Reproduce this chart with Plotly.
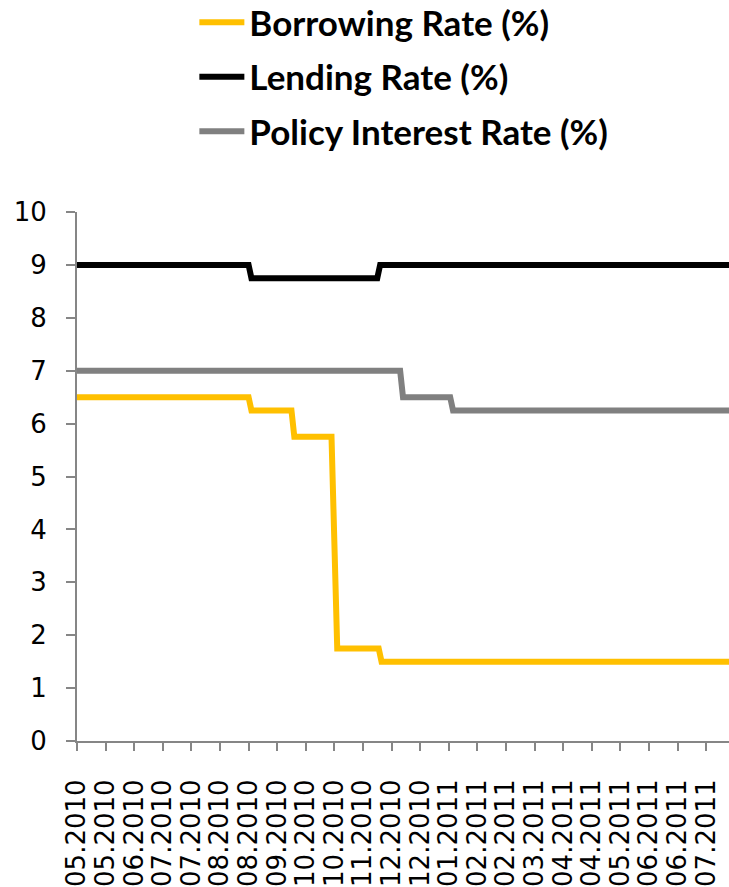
import plotly.graph_objects as go

# Interest rate series (change points; values in %)
borrow_dates = ["2010-05-03", "2010-08-31", "2010-09-02", "2010-09-30", "2010-10-02",
                "2010-10-28", "2010-11-01", "2010-11-30", "2010-12-02", "2011-08-02"]
borrow_vals = [6.5, 6.5, 6.25, 6.25, 5.75, 5.75, 1.75, 1.75, 1.5, 1.5]

lend_dates = ["2010-05-03", "2010-08-31", "2010-09-02", "2010-11-29", "2010-12-01", "2011-08-02"]
lend_vals = [9, 9, 8.75, 8.75, 9, 9]

policy_dates = ["2010-05-03", "2010-12-15", "2010-12-17", "2011-01-19", "2011-01-21", "2011-08-02"]
policy_vals = [7, 7, 6.5, 6.5, 6.25, 6.25]

# Category ticks on the date axis
tick_dates = ["2010-05-03", "2010-05-23", "2010-06-12", "2010-07-02", "2010-07-22",
              "2010-08-11", "2010-08-31", "2010-09-20", "2010-10-10", "2010-10-30",
              "2010-11-19", "2010-12-09", "2010-12-29", "2011-01-18", "2011-02-07",
              "2011-02-27", "2011-03-19", "2011-04-08", "2011-04-28", "2011-05-18",
              "2011-06-07", "2011-06-27", "2011-07-17"]
tick_labels = ["05.2010", "05.2010", "06.2010", "07.2010", "07.2010", "08.2010",
               "08.2010", "09.2010", "10.2010", "10.2010", "11.2010", "12.2010",
               "12.2010", "01.2011", "02.2011", "02.2011", "03.2011", "04.2011",
               "04.2011", "05.2011", "06.2011", "06.2011", "07.2011"]
y_ticks = list(range(0, 11))

series = [
    ("Borrowing Rate (%)", borrow_dates, borrow_vals, "#FFC000"),
    ("Lending Rate (%)", lend_dates, lend_vals, "#000000"),
    ("Policy Interest Rate (%)", policy_dates, policy_vals, "#808080"),
]

fig = go.Figure()
for i, (name, xs, ys, color) in enumerate(series):
    fig.add_trace(go.Scatter(
        x=xs, y=ys, name=name, mode="lines", legendgroup=f"g{i}",
        line=dict(color=color, width=6, shape="linear"),
    ))

axis_color = "#868686"
tick_font = dict(family="DejaVu Sans", size=26, color="#000000")

fig.update_layout(
    width=729, height=887,
    margin=dict(l=77, r=0, t=212, b=146, autoexpand=False),
    paper_bgcolor="white", plot_bgcolor="white",
    showlegend=True,
    legend=dict(
        x=0.180, y=1.414, xanchor="left", yanchor="top",
        font=dict(family="Lato, sans-serif", size=35, color="#000000", weight="bold"),
        tracegroupgap=6, itemwidth=45, bgcolor="rgba(0,0,0,0)",
    ),
    xaxis=dict(
        type="date", range=["2010-05-03", "2011-08-02"],
        tickmode="array", tickvals=tick_dates, ticktext=tick_labels,
        tickangle=-90, ticks="outside", ticklen=8, tickwidth=2, tickcolor=axis_color,
        showline=True, linecolor=axis_color, linewidth=2, showgrid=False, zeroline=False,
        tickfont=tick_font, ticklabelstandoff=18,
    ),
    yaxis=dict(
        range=[0, 10], tickmode="array", tickvals=y_ticks,
        ticks="outside", ticklen=9, tickwidth=2, tickcolor=axis_color,
        showline=True, linecolor=axis_color, linewidth=2, showgrid=False, zeroline=False,
        tickfont=tick_font, ticklabelstandoff=14,
    ),
)

fig.write_html("out.html")
